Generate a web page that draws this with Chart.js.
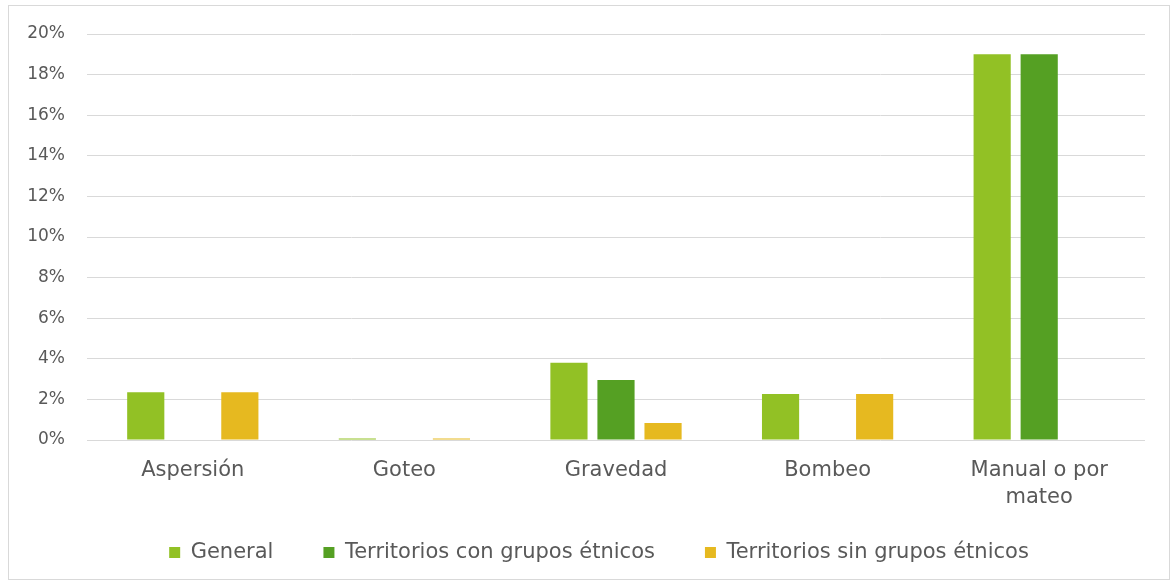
<!DOCTYPE html>
<html>
<head>
<meta charset="utf-8">
<script src="https://cdn.jsdelivr.net/npm/chart.js@4/dist/chart.umd.min.js"></script>
<style>
  body { margin: 0; background: #fff; }
  .frame {
    position: absolute; left: 8px; top: 5px;
    width: 1162px; height: 575px;
    border: 1px solid #d9d9d9; box-sizing: border-box;
  }
  .frame canvas { display: block; }
</style>
</head>
<body>
<div class="frame">
  <canvas id="riegoChart" width="1160" height="573"></canvas>
</div>
<script>
const categories = ['Aspersión', 'Goteo', 'Gravedad', 'Bombeo', ['Manual o por', 'mateo']];
const seriesNames = ['General', 'Territorios con grupos étnicos', 'Territorios sin grupos étnicos'];
const general = [2.35, 0.07, 3.8, 2.27, 19.0];
const conEtnicos = [0, 0, 2.95, 0, 19.0];
const sinEtnicos = [2.35, 0.07, 0.84, 2.27, 0];
const colors = ['#92c125', '#55a023', '#e6b920'];

const yTicks = [0, 2, 4, 6, 8, 10, 12, 14, 16, 18, 20];

const fontFamily = "'DejaVu Sans', sans-serif";
const textColor = '#595959';

// legend uses one padding for both directions: keep the wide horizontal gaps
// but pull the row up closer to the axis labels
const LEGEND_H = 64;
const LEGEND_LIFT = 18;
const LEGEND_SHIFT = 14;
const legendTrim = {
  id: 'legendTrim',
  beforeLayout(chart) {
    const lg = chart.legend;
    if (lg && !lg._trimmed) {
      const origFit = lg.fit.bind(lg);
      lg.fit = function() {
        origFit();
        this.height = LEGEND_H;
      };
      lg._trimmed = true;
    }
  },
  afterLayout(chart) {
    const lg = chart.legend;
    if (lg) {
      lg.top -= LEGEND_LIFT;
      lg.height += LEGEND_LIFT;
      lg.left += LEGEND_SHIFT;
      lg.right += LEGEND_SHIFT;
    }
  }
};

const ctx = document.getElementById('riegoChart');
const riegoChart = new Chart(ctx.getContext('2d'), {
  type: 'bar',
  data: {
    labels: categories,
    datasets: [general, conEtnicos, sinEtnicos].map(function(values, i) {
      return {
        label: seriesNames[i],
        data: values,
        backgroundColor: colors[i],
        barPercentage: 0.79,
        categoryPercentage: 0.667
      };
    })
  },
  options: {
    responsive: false,
    animation: false,
    layout: { padding: { left: 16, right: 24, top: 12, bottom: 5 } },
    plugins: {
      legend: {
        position: 'bottom',
        labels: {
          boxWidth: 11,
          boxHeight: 11,
          padding: 50,
          color: textColor,
          font: { family: fontFamily, size: 21 }
        }
      },
      tooltip: { enabled: false }
    },
    scales: {
      x: {
        grid: { display: false, drawTicks: false },
        border: { display: false },
        ticks: {
          color: textColor,
          padding: 18,
          maxRotation: 0,
          font: { family: fontFamily, size: 21, lineHeight: 1.24 }
        },
        afterFit: function(scale) { scale.height = 70; }
      },
      y: {
        min: 0,
        max: 20,
        afterBuildTicks: function(axis) {
          axis.ticks = yTicks.map(v => ({ value: v }));
        },
        afterFit: function(scale) {
          scale.width = 62;
          // tick padding would otherwise push the top gridline down
          scale.paddingTop = 28;
          scale.paddingBottom = 0;
        },
        grid: { color: '#d9d9d9', drawTicks: false },
        border: { display: false },
        ticks: {
          color: textColor,
          padding: 22,
          font: { family: fontFamily, size: 17 },
          callback: function(value) { return value + '%'; }
        }
      }
    }
  },
  plugins: [legendTrim]
});
</script>
</body>
</html>
